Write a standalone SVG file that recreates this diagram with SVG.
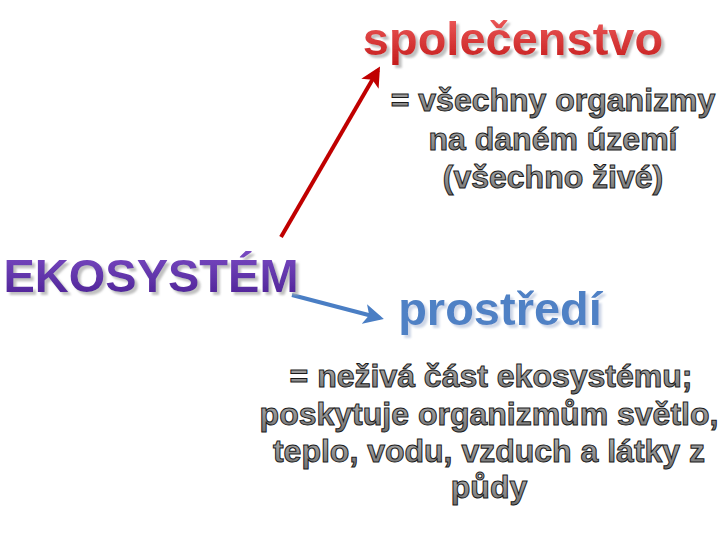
<svg xmlns="http://www.w3.org/2000/svg" width="720" height="540" viewBox="0 0 720 540">
<defs>
<linearGradient id="gRed" x1="0" y1="0" x2="0" y2="1"><stop offset="0" stop-color="#f06060"/><stop offset="1" stop-color="#c41a1a"/></linearGradient>
<linearGradient id="gPur" x1="0" y1="0" x2="0" y2="1"><stop offset="0" stop-color="#7b4cc4"/><stop offset="1" stop-color="#4a1f92"/></linearGradient>
<linearGradient id="gGry" x1="0" y1="0" x2="0" y2="1"><stop offset="0" stop-color="#b8b8b8"/><stop offset="1" stop-color="#707070"/></linearGradient>
<filter id="shGray" x="-5%" y="-20%" width="115%" height="150%"><feDropShadow dx="3" dy="3" stdDeviation="0.8" flood-color="#b0b0b0" flood-opacity="0.8"/></filter>
<filter id="shBlue" x="-5%" y="-20%" width="115%" height="150%"><feDropShadow dx="3" dy="3" stdDeviation="0.8" flood-color="#c8d2e4" flood-opacity="0.9"/></filter>
<marker id="mRed" markerWidth="5" markerHeight="5" refX="4" refY="2.5" orient="auto" markerUnits="strokeWidth"><path d="M0,0 L5,2.5 L0,5 L1.2,2.5 Z" fill="#c00000"/></marker>
<marker id="mBlue" markerWidth="5" markerHeight="5" refX="4" refY="2.5" orient="auto" markerUnits="strokeWidth"><path d="M0,0 L5,2.5 L0,5 L1.2,2.5 Z" fill="#4a7ec4"/></marker>
</defs>
<style>
text{font-family:"Liberation Sans",Arial,sans-serif;font-weight:bold;text-anchor:middle}
.title{font-size:47px}
.desc{font-size:32px;fill:url(#gGry);stroke:#1a1a1a;stroke-width:1}
</style>
<rect width="720" height="540" fill="#ffffff"/>
<g id="connectors">
<line x1="281" y1="237" x2="378" y2="70" stroke="#c00000" stroke-width="4" marker-end="url(#mRed)"/>
<line x1="292" y1="295" x2="380" y2="318" stroke="#4a7ec4" stroke-width="4" marker-end="url(#mBlue)"/>
</g>
<g id="spolecenstvo">
<text class="title" x="513" y="55" fill="url(#gRed)" filter="url(#shGray)">společenstvo</text>
<text class="desc" x="553" y="111">= všechny organizmy</text>
<text class="desc" x="553" y="150">na daném území</text>
<text class="desc" x="553" y="188">(všechno živé)</text>
</g>
<g id="ekosystem">
<text class="title" x="151" y="292" fill="url(#gPur)" filter="url(#shGray)">EKOSYSTÉM</text>
</g>
<g id="prostredi">
<text class="title" x="500" y="325" fill="#4f81c5" filter="url(#shBlue)">prostředí</text>
<text class="desc" x="491" y="387">= neživá část ekosystému;</text>
<text class="desc" x="489" y="425">poskytuje organizmům světlo,</text>
<text class="desc" x="489" y="462">teplo, vodu, vzduch a látky z</text>
<text class="desc" x="489" y="498">půdy</text>
</g>
</svg>
